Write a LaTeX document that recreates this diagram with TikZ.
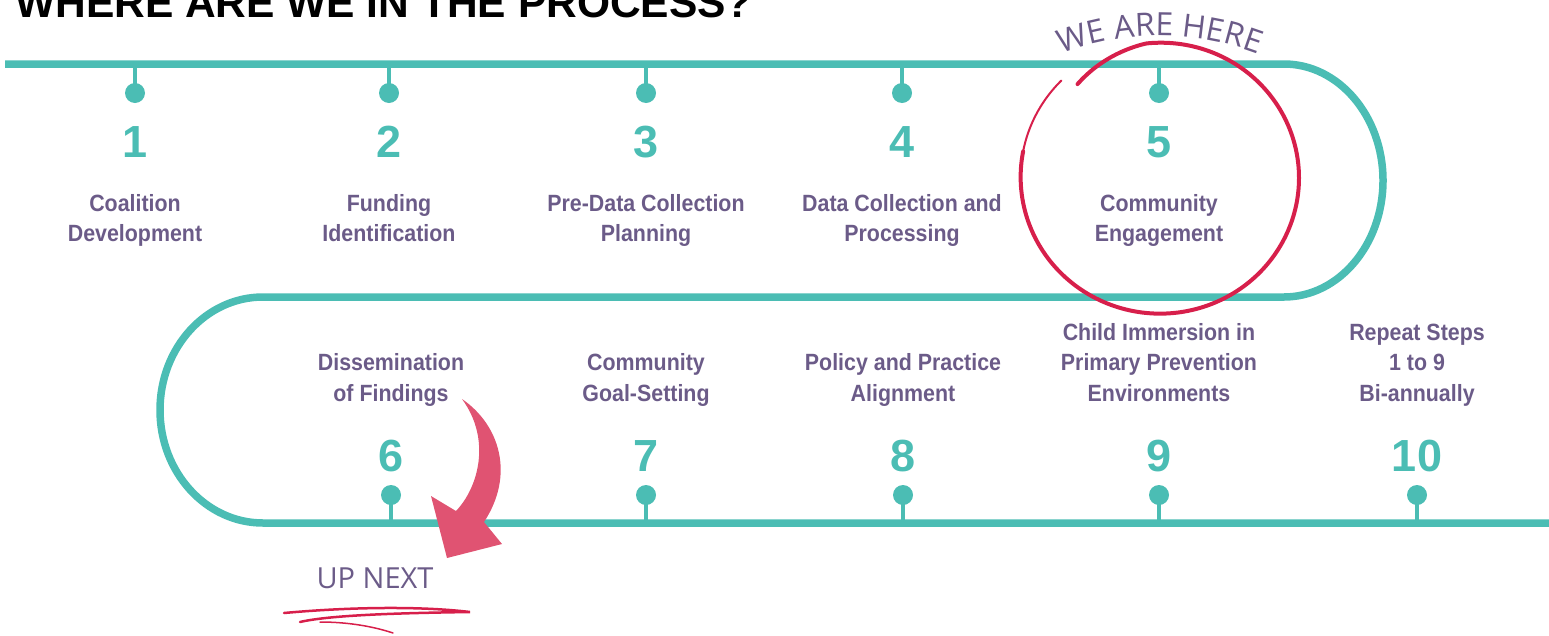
\documentclass[tikz,border=0pt]{standalone}
\usepackage{fontspec}
\setmainfont{Liberation Sans}
\newfontfamily\labfont[FakeStretch=0.91]{Liberation Sans}
\newfontfamily\handfont{Open Sans}
\usetikzlibrary{decorations.text}
\definecolor{tealc}{HTML}{4BBDB4}
\definecolor{purp}{HTML}{6B5B88}
\definecolor{redc}{HTML}{D71F4B}
\definecolor{arrowc}{HTML}{E05372}
\begin{document}
\begin{tikzpicture}[x=1pt,y=1pt,
  track/.style={draw=tealc, line width=7.5pt},
  stem/.style={draw=tealc, line width=4.5pt},
  dotm/.style={circle, fill=tealc, minimum size=20pt, inner sep=0pt},
  num/.style={text=tealc, font=\fontsize{45}{45}\selectfont\bfseries, anchor=base, inner sep=0pt},
  lab/.style={text=purp, font=\labfont\fontsize{23.5}{30.5}\selectfont\bfseries, align=center, anchor=base, inner sep=0pt},
  hand/.style={text=purp, font=\handfont\fontsize{29}{29}\selectfont, inner sep=0pt},
]
\useasboundingbox (0,0) rectangle (1549,-635);

% title
\node[anchor=base west, inner sep=0pt, font=\fontsize{42.5}{42.5}\selectfont\bfseries] (title) at (15,-17.5) {WHERE ARE WE IN THE PROCESS?};

% track
\coordinate (t0) at (5,-64);
\coordinate (t1) at (1284,-64);
\coordinate (m0) at (263,-297);
\coordinate (b1) at (1549,-523);
\draw[track] (t0) -- (t1) arc[start angle=90, end angle=-90, x radius=99, y radius=116.5]
  -- (m0) arc[start angle=90, end angle=270, x radius=103, y radius=113] -- (b1);

% top steps
\foreach \i/\x/\t in {1/135/{Coalition\\Development},
                      2/389/{Funding\\Identification},
                      3/646/{Pre-Data Collection\\Planning},
                      4/902/{Data Collection and\\Processing},
                      5/1159/{Community\\Engagement}}{
  \coordinate (s\i) at (\x,-64);
  \node[dotm] (d\i) at (\x,-93) {};
  \draw[stem] (s\i) -- (d\i.center);
  \node[num] (n\i) at (\x,-157) {\i};
  \node[lab] (l\i) at (\x,-241.5) {\t};
}

% bottom steps
\foreach \i/\x/\t in {6/391/{Dissemination\\of Findings},
                      7/646/{Community\\Goal-Setting},
                      8/903/{Policy and Practice\\Alignment},
                      9/1159/{Child Immersion in\\Primary Prevention\\Environments},
                      10/1417/{Repeat Steps\\1 to 9\\Bi-annually}}{
  \coordinate (s\i) at (\x,-523);
  \node[dotm] (d\i) at (\x,-495) {};
  \draw[stem] (s\i) -- (d\i.center);
  \node[num] (n\i) at (\x,-471) {\i};
  \node[lab] (l\i) at (\x,-401) {\t};
}

% red circle
\draw[redc, line width=4pt, line cap=round]
  plot[domain=0:322, samples=120, smooth]
  ({1160.5+137.5*(1+0.02*\x/360-0.08*max(0,1-\x/35))*cos(131-\x)},
   {-177.5+134.5*(1+0.02*\x/360-0.08*max(0,1-\x/35))*sin(131-\x)});
\draw[redc, line width=2pt, line cap=round]
  plot[domain=318:356, samples=20, smooth]
  ({1160.5+137.5*(1+0.02*\x/360)*cos(131-\x)},
   {-177.5+134.5*(1+0.02*\x/360)*sin(131-\x)});

% we are here
\path[decorate, decoration={text along path, text align=center, text color=purp,
  text={|\handfont\fontsize{32}{32}\selectfont|WE ARE HERE}}]
  (1160,-312) ++(114:276) arc[start angle=114, end angle=66, radius=276];

% curved arrow
\fill[arrowc] (462,-399) .. controls (500,-425) and (515,-475) .. (484,-522)
  -- (502,-544) -- (447,-558) -- (431,-496) -- (456,-511)
  .. controls (478,-488) and (492,-440) .. (462,-399) -- cycle;

% up next
\node[hand] (up) at (375,-578) {UP NEXT};
\draw[redc, line width=2.5pt, line cap=round] (284,-613) .. controls (350,-607) and (420,-606) .. (470,-612)
  .. controls (400,-613) and (330,-615) .. (300,-622);
\draw[redc, line width=1.5pt, line cap=round] (320,-622) .. controls (350,-622) and (375,-627) .. (393,-633);
\end{tikzpicture}
\end{document}
